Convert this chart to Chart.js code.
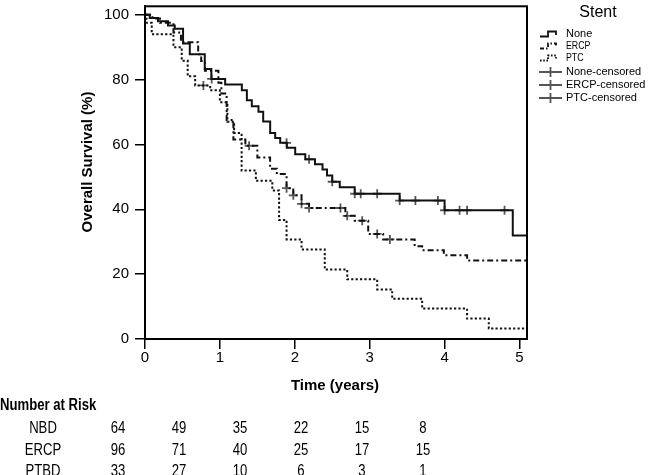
<!DOCTYPE html>
<html>
<head>
<meta charset="utf-8">
<script src="https://cdn.jsdelivr.net/npm/chart.js@4.4.1/dist/chart.umd.min.js"></script>
<style>
  html, body { margin: 0; padding: 0; background: #fff; }
  #wrap { position: relative; width: 648px; height: 475px; }
</style>
</head>
<body>
<div id="wrap"><canvas id="kmChart" width="648" height="475"></canvas></div>
<script>
// Kaplan-Meier steps: time (years) -> survival (%)
const noneTime = [0, 0.063, 0.174, 0.307, 0.397, 0.508, 0.598, 0.798, 0.886, 1.07, 1.293, 1.36, 1.426, 1.515, 1.578, 1.671, 1.738, 1.805, 1.894, 2.005, 2.14, 2.27, 2.37, 2.43, 2.5, 2.6, 2.8, 3.4, 4.0, 4.91, 5.1];
const noneSurv = [100, 99, 98, 96.7, 95.7, 91.1, 87.8, 83.3, 80.2, 78.5, 76.7, 73.6, 71.8, 70.1, 67.1, 63.5, 62, 60.5, 59, 57, 55.4, 53.9, 52.3, 50.4, 48.5, 46.8, 44.8, 42.7, 39.7, 31.9, 31.9];
const noneCensor = [0.89, 1.89, 2.19, 2.5, 2.8, 2.88, 3.1, 3.4, 3.61, 3.91, 4.0, 4.2, 4.3, 4.8];

const ercpTime = [0, 0.1, 0.2, 0.38, 0.48, 0.71, 0.75, 0.8, 0.98, 1.02, 1.09, 1.18, 1.34, 1.5, 1.67, 1.76, 1.89, 1.98, 2.09, 2.19, 2.675, 2.8, 2.98, 3.18, 3.6, 3.7, 3.99, 4.3, 5.1];
const ercpSurv = [100, 98.8, 97.5, 94.5, 91.5, 87.8, 85.7, 82.7, 79, 75.7, 67.5, 61.5, 59.6, 56, 52.5, 50.9, 46.5, 44.3, 41.7, 40.4, 38, 36.5, 32.4, 30.7, 28.6, 27.4, 25.8, 24.2, 24.2];
const ercpCensor = [1.39, 1.89, 1.98, 2.09, 2.19, 2.61, 2.7, 2.9, 3.1, 3.27];

const ptcTime = [0, 0.02, 0.09, 0.38, 0.49, 0.57, 0.67, 0.87, 1.0, 1.1, 1.19, 1.29, 1.48, 1.7, 1.79, 1.89, 2.09, 2.4, 2.7, 3.1, 3.3, 3.7, 4.3, 4.59, 5.1];
const ptcSurv = [100, 97.5, 94, 90, 85.8, 81, 78.2, 76.7, 73, 67, 63.5, 52, 48.8, 45.8, 36.7, 30.7, 27.6, 21.4, 18.4, 15.3, 12.4, 9.4, 6.3, 3.2, 3.2];
const ptcCensor = [0.78];

const xTicks = [0, 1, 2, 3, 4, 5];
const yTicks = [0, 20, 40, 60, 80, 100];

// Number at risk table
const riskGroups = ['NBD', 'ERCP', 'PTBD'];
const riskNBD = [64, 49, 35, 22, 15, 8];
const riskERCP = [96, 71, 40, 25, 17, 15];
const riskPTBD = [33, 27, 10, 6, 3, 1];

const legendLabels = ['None', 'ERCP', 'PTC', 'None-censored', 'ERCP-censored', 'PTC-censored'];

const FONT = "'Liberation Sans', Arial, Helvetica, sans-serif";
const INK = '#111';
const CENSOR = '#555';
const dashes = { none: [], ercp: [6, 3, 2, 3], ptc: [2.2, 2.2] };

// value of a step curve at time t
function survAt(times, surv, t) {
  let v = surv[0];
  for (let i = 0; i < times.length; i++) {
    if (times[i] <= t + 1e-9) v = surv[i];
  }
  return v;
}

function stepData(times, surv) {
  return times.map((t, i) => ({ x: t, y: surv[i] }));
}

function censorData(cens, times, surv) {
  return cens.map(t => ({ x: t, y: survAt(times, surv, t) }));
}

function curve(label, times, surv, dash) {
  return {
    label: label,
    data: stepData(times, surv),
    stepped: true,
    borderColor: INK,
    borderWidth: 2,
    borderDash: dash,
    pointRadius: 0,
    fill: false
  };
}

function censorSet(label, cens, times, surv) {
  return {
    label: label,
    data: censorData(cens, times, surv),
    showLine: false,
    pointStyle: 'cross',
    pointRadius: 4.5,
    pointBorderWidth: 1.8,
    pointBorderColor: CENSOR,
    borderColor: CENSOR
  };
}

// text helper with optional horizontal squeeze (for the condensed look)
function text(ctx, str, x, y, font, align, sx) {
  ctx.save();
  ctx.font = font;
  ctx.fillStyle = '#000';
  ctx.textAlign = align || 'left';
  ctx.textBaseline = 'middle';
  ctx.translate(x, y);
  ctx.scale(sx || 1, 1);
  ctx.fillText(str, 0, 0);
  ctx.restore();
}

const decor = {
  id: 'decor',
  afterDraw(chart) {
    const ctx = chart.ctx;
    const a = chart.chartArea;

    // frame
    ctx.save();
    ctx.strokeStyle = '#000';
    ctx.lineWidth = 2;
    ctx.strokeRect(a.left, a.top, a.right - a.left, a.bottom - a.top);
    ctx.restore();

    // axis titles
    ctx.save();
    ctx.translate(88, 162);
    ctx.rotate(-Math.PI / 2);
    text(ctx, 'Overall Survival (%)', 0, 0, 'bold 15px ' + FONT, 'center');
    ctx.restore();
    text(ctx, 'Time (years)', 335, 386, 'bold 15px ' + FONT, 'center');

    // legend
    text(ctx, 'Stent', 598, 13, '16px ' + FONT, 'center');
    const rows = [34, 46, 58, 72, 85, 98];
    ctx.save();
    ctx.strokeStyle = INK;
    ctx.lineWidth = 1.8;
    for (let i = 0; i < 3; i++) {
      const y = rows[i];
      ctx.setLineDash(i === 0 ? [] : (i === 1 ? [4, 2, 1.5, 2] : [1.6, 1.6]));
      ctx.beginPath();
      ctx.moveTo(540, y + 2.5);
      ctx.lineTo(548, y + 2.5);
      ctx.lineTo(548, y - 2.5);
      ctx.lineTo(556, y - 2.5);
      ctx.lineTo(556, y + 1);
      ctx.stroke();
    }
    ctx.setLineDash([]);
    ctx.strokeStyle = CENSOR;
    for (let i = 3; i < 6; i++) {
      const y = rows[i];
      ctx.beginPath();
      ctx.moveTo(539, y);
      ctx.lineTo(562, y);
      ctx.moveTo(550.5, y - 5);
      ctx.lineTo(550.5, y + 5);
      ctx.stroke();
    }
    ctx.restore();
    text(ctx, legendLabels[0], 566, rows[0], '11px ' + FONT, 'left');
    text(ctx, legendLabels[1], 566, rows[1], '11px ' + FONT, 'left', 0.8);
    text(ctx, legendLabels[2], 566, rows[2], '11px ' + FONT, 'left', 0.8);
    for (let i = 3; i < 6; i++) {
      text(ctx, legendLabels[i], 566, rows[i], '11px ' + FONT, 'left');
    }

    // number at risk table
    const sq = 0.82;
    text(ctx, 'Number at Risk', 0, 406, 'bold 16px ' + FONT, 'left', sq);
    const tableRows = [riskNBD, riskERCP, riskPTBD];
    const rowY = [429, 451, 472];
    tableRows.forEach((vals, r) => {
      text(ctx, riskGroups[r], 43, rowY[r], '16px ' + FONT, 'center', sq);
      vals.forEach((v, c) => {
        text(ctx, String(v), 118 + c * 61, rowY[r], '16px ' + FONT, 'center', sq);
      });
    });
  }
};

const ctx = document.getElementById('kmChart').getContext('2d');
const kmChart = new Chart(ctx, {
  type: 'line',
  data: {
    datasets: [
      curve('None', noneTime, noneSurv, dashes.none),
      curve('ERCP', ercpTime, ercpSurv, dashes.ercp),
      curve('PTC', ptcTime, ptcSurv, dashes.ptc),
      censorSet('None-censored', noneCensor, noneTime, noneSurv),
      censorSet('ERCP-censored', ercpCensor, ercpTime, ercpSurv),
      censorSet('PTC-censored', ptcCensor, ptcTime, ptcSurv)
    ]
  },
  options: {
    responsive: false,
    animation: false,
    layout: { padding: { left: 0, right: 121, top: 1.5, bottom: 106 } },
    plugins: { legend: { display: false }, tooltip: { enabled: false } },
    scales: {
      x: {
        type: 'linear',
        min: 0,
        max: 5.1,
        afterBuildTicks: s => { s.ticks = xTicks.map(v => ({ value: v })); },
        afterFit: s => { s.height = 30; s.paddingLeft = 0; s.paddingRight = 0; },
        grid: { drawOnChartArea: false, drawTicks: true, tickLength: 10, color: '#000', lineWidth: 1.5 },
        border: { display: true, color: '#000', width: 2 },
        ticks: { color: '#000', padding: 0, maxRotation: 0, font: { family: FONT, size: 15 } }
      },
      y: {
        type: 'linear',
        min: 0,
        max: 102.6,
        afterBuildTicks: s => { s.ticks = yTicks.map(v => ({ value: v })); },
        afterFit: s => { s.width = 145; s.paddingTop = 0; s.paddingBottom = 0; },
        grid: { drawOnChartArea: false, drawTicks: true, tickLength: 10, color: '#000', lineWidth: 1.5 },
        border: { display: true, color: '#000', width: 2 },
        ticks: { color: '#000', padding: 6, font: { family: FONT, size: 15 } }
      }
    }
  },
  plugins: [decor]
});
</script>
</body>
</html>
